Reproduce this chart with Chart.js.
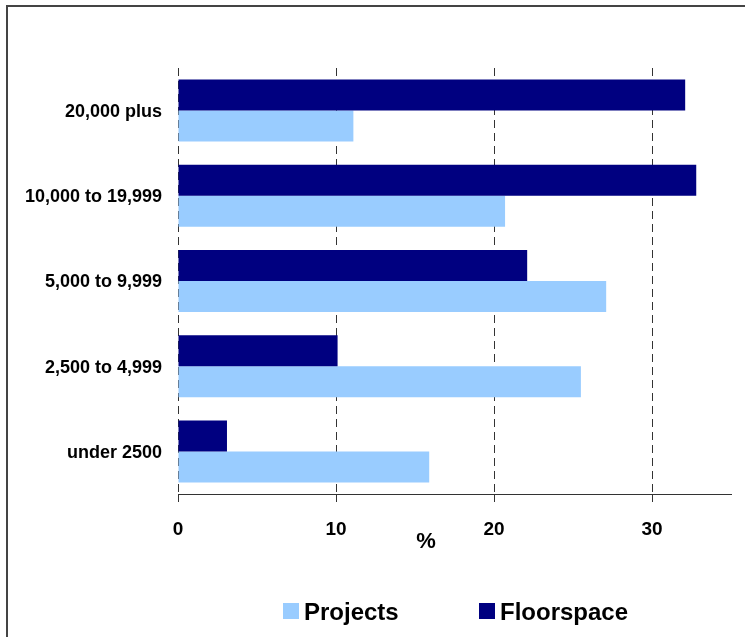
<!DOCTYPE html>
<html>
<head>
<meta charset="utf-8">
<title>Projects and floorspace by size band</title>
<script src="https://cdn.jsdelivr.net/npm/chart.js@4.4.1/dist/chart.umd.min.js"></script>
<style>
    html, body { margin: 0; padding: 0; background: #fff; overflow: hidden; }
    #wrap { position: relative; width: 745px; height: 637px; }
    #frame {
        position: absolute; left: 6px; top: 5px;
        width: 800px; height: 700px;
        border: 2px solid #444;
        pointer-events: none;
    }
    canvas { position: absolute; left: 0; top: 0; display: block; }
</style>
</head>
<body>
<div id="wrap">
    <canvas id="chart" width="745" height="637"></canvas>
    <div id="frame"></div>
</div>
<script>
// Data
const sizeBands = ['20,000 plus', '10,000 to 19,999', '5,000 to 9,999', '2,500 to 4,999', 'under 2500'];
const floorspace = [32.1, 32.8, 22.1, 10.1, 3.1];
const projects = [11.1, 20.7, 27.1, 25.5, 15.9];
const xTicks = [0, 10, 20, 30];
const xMax = 35;
const axisTitle = '%';

const FONT = '"Liberation Sans", Arial, sans-serif';

// Legend and axis title drawn by hand so spacing matches the original
const bottomText = {
    id: 'bottomText',
    afterDraw(chart) {
        const ctx = chart.ctx;
        ctx.save();
        ctx.fillStyle = '#000';
        ctx.font = 'bold 22px ' + FONT;
        ctx.textAlign = 'center';
        ctx.textBaseline = 'middle';
        ctx.fillText(axisTitle, 426, 542);

        // Projects first, then Floorspace
        const items = [chart.data.datasets[1], chart.data.datasets[0]];
        const boxX = [283, 479];
        ctx.font = 'bold 24px ' + FONT;
        ctx.textAlign = 'left';
        ctx.textBaseline = 'alphabetic';
        items.forEach((ds, i) => {
            ctx.fillStyle = ds.backgroundColor;
            ctx.fillRect(boxX[i], 603, 16, 16);
            ctx.fillStyle = '#000';
            ctx.fillText(ds.label, boxX[i] + 21, 620);
        });
        ctx.restore();
    }
};

new Chart(document.getElementById('chart'), {
    type: 'bar',
    data: {
        labels: sizeBands,
        datasets: [
            {
                label: 'Floorspace',
                data: floorspace,
                backgroundColor: '#000080'
            },
            {
                label: 'Projects',
                data: projects,
                backgroundColor: '#99CCFF'
            }
        ]
    },
    options: {
        indexAxis: 'y',
        responsive: false,
        animation: false,
        categoryPercentage: 0.728,
        barPercentage: 1.0,
        layout: { padding: { top: 68, right: 14, left: 0, bottom: 0 } },
        plugins: {
            legend: { display: false },
            tooltip: { enabled: false }
        },
        scales: {
            x: {
                min: 0,
                max: xMax,
                afterBuildTicks: scale => {
                    scale.ticks = xTicks.map(v => ({ value: v }));
                },
                afterFit: scale => { scale.height = 143; },
                grid: {
                    color: '#333',
                    lineWidth: 1,
                    tickColor: '#333',
                    tickLength: 8,
                    tickBorderDash: []
                },
                border: { display: true, color: '#333', width: 1, dash: [8, 5] },
                ticks: {
                    color: '#000',
                    padding: 16,
                    font: { family: FONT, size: 19, weight: 'bold' }
                }
            },
            y: {
                afterFit: scale => { scale.width = 178; },
                grid: { display: false, drawTicks: false },
                border: { display: false },
                ticks: {
                    color: '#000',
                    padding: 16,
                    labelOffset: 1.5,
                    font: { family: FONT, size: 18, weight: 'bold' }
                }
            }
        }
    },
    plugins: [bottomText]
});
</script>
</body>
</html>
